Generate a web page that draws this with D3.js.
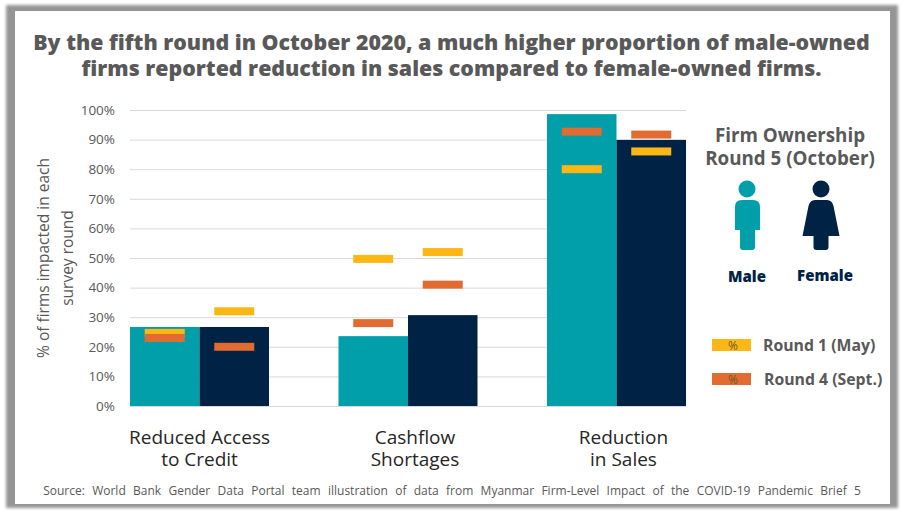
<!DOCTYPE html>
<html>
<head>
<meta charset="utf-8">
<script src="https://cdnjs.cloudflare.com/ajax/libs/d3/7.8.5/d3.min.js"></script>
<style>
  html, body { margin: 0; padding: 0; background: #fff; }
  svg { display: block; font-family: "Open Sans", sans-serif; }
</style>
</head>
<body>
<svg id="chart" width="906" height="515"></svg>
<script>
const categories = [['Reduced Access', 'to Credit'], ['Cashflow', 'Shortages'], ['Reduction', 'in Sales']];
const maleRound5 = [26.7, 23.6, 98.6];
const femaleRound5 = [26.7, 30.7, 89.9];
const maleRound1 = [24.7, 49.7, 80];
const femaleRound1 = [32, 52, 86];
const maleRound4 = [23, 28, 92.7];
const femaleRound4 = [20, 41, 91.7];
const yTicks = [0, 10, 20, 30, 40, 50, 60, 70, 80, 90, 100];

const TEAL = '#009fa9', NAVY = '#002244', YELLOW = '#fdb714', ORANGE = '#e26b32', GREY = '#595959';

const svg = d3.select('#chart');

// frame with soft shadow
const defs = svg.append('defs');
defs.append('filter').attr('id', 'soft').attr('x', '-5%').attr('y', '-5%').attr('width', '110%').attr('height', '110%')
  .append('feGaussianBlur').attr('stdDeviation', 1.5);
svg.append('rect').attr('x', 6).attr('y', 5).attr('width', 892).attr('height', 503)
  .attr('fill', '#959595').attr('filter', 'url(#soft)');
svg.append('rect').attr('x', 15).attr('y', 11).attr('width', 875).attr('height', 493).attr('fill', '#fff');

// title
svg.append('g').attr('fill', GREY).attr('font-size', 21.35).attr('font-weight', 800).attr('text-anchor', 'middle')
  .selectAll('text')
  .data(['By the fifth round in October 2020, a much higher proportion of male-owned',
         'firms reported reduction in sales compared to female-owned firms.'])
  .join('text')
  .attr('x', 451.5).attr('y', (d, i) => 50 + i * 26)
  .text(d => d);

// scales
const x = d3.scaleBand().domain(d3.range(categories.length)).range([130, 686]).paddingInner(1 / 3);
const y = d3.scaleLinear().domain([0, 100]).range([406, 110]);
const sub = d3.scaleBand().domain(['male', 'female']).range([0, x.bandwidth()]);

// gridlines + y axis
const yAxis = d3.axisLeft(y).tickValues(yTicks).tickFormat(d => d + '%').tickSize(0).tickPadding(15);
const axisG = svg.append('g').attr('transform', 'translate(130,0)').call(yAxis);
axisG.select('.domain').remove();
axisG.selectAll('text').attr('font-size', 13.5).attr('fill', GREY).attr('font-family', '"Open Sans", sans-serif');
axisG.selectAll('.tick').append('line').attr('x2', 556).attr('stroke', '#d9d9d9').attr('stroke-width', 1);

// y axis title
svg.append('g').attr('transform', 'translate(49,258) rotate(-90)')
  .attr('font-size', 15.5).attr('fill', GREY).attr('text-anchor', 'middle')
  .selectAll('text').data(['% of firms impacted in each', 'survey round']).join('text')
  .attr('y', (d, i) => i * 23.5).text(d => d);

// bars
const bars = [{ key: 'male', values: maleRound5, color: TEAL }, { key: 'female', values: femaleRound5, color: NAVY }];
bars.forEach(s => {
  svg.append('g').selectAll('rect').data(s.values).join('rect')
    .attr('x', (d, i) => x(i) + sub(s.key))
    .attr('y', d => y(d))
    .attr('width', sub.bandwidth())
    .attr('height', d => y(0) - y(d))
    .attr('fill', s.color);
});

// round markers
const markerW = 40, markerH = 8;
const markers = [
  { key: 'male', values: maleRound1, color: YELLOW },
  { key: 'female', values: femaleRound1, color: YELLOW },
  { key: 'male', values: maleRound4, color: ORANGE },
  { key: 'female', values: femaleRound4, color: ORANGE }
];
markers.forEach(s => {
  svg.append('g').selectAll('rect').data(s.values).join('rect')
    .attr('x', (d, i) => x(i) + sub(s.key) + sub.bandwidth() / 2 - markerW / 2)
    .attr('y', d => y(d) - markerH / 2)
    .attr('width', markerW)
    .attr('height', markerH)
    .attr('fill', s.color);
});

// category labels, the last two sit a bit right of their bars in the original
const catG = svg.append('g').attr('font-size', 19).attr('fill', '#262626').attr('text-anchor', 'middle');
categories.forEach((lines, i) => {
  catG.selectAll(null).data(lines).join('text')
    .attr('x', x(i) + x.bandwidth() / 2 + (i === 0 ? 0 : 7))
    .attr('y', (d, j) => 444 + j * 22)
    .text(d => d);
});

// source
svg.append('text').attr('x', 452).attr('y', 495).attr('text-anchor', 'middle')
  .attr('font-size', 12).attr('fill', GREY).attr('word-spacing', 4.2)
  .text('Source: World Bank Gender Data Portal team illustration of data from Myanmar Firm-Level Impact of the COVID-19 Pandemic Brief 5');

// legend heading
svg.append('g').attr('font-size', 18.8).attr('font-weight', 700).attr('fill', GREY).attr('text-anchor', 'middle')
  .selectAll('text').data(['Firm Ownership', 'Round 5 (October)']).join('text')
  .attr('x', 790).attr('y', (d, i) => 142 + i * 22.5).text(d => d);

// person icons
svg.append('circle').attr('cx', 747).attr('cy', 189).attr('r', 8.5).attr('fill', TEAL);
svg.append('path').attr('fill', TEAL)
  .attr('d', 'M742,200 h11 q7,0 7,7 v23 h-5 v17 q0,3 -3,3 h-9 q-3,0 -3,-3 v-17 h-5 v-23 q0,-7 7,-7 z');
svg.append('circle').attr('cx', 821).attr('cy', 189).attr('r', 8.5).attr('fill', NAVY);
svg.append('path').attr('fill', NAVY)
  .attr('d', 'M815,200 h12 q5,0 6.5,6 l6,30 h-11 v11 q0,3 -3,3 h-9 q-3,0 -3,-3 v-11 h-11 l6,-30 q1.5,-6 6.5,-6 z');
svg.append('g').attr('font-size', 15).attr('font-weight', 800).attr('fill', NAVY).attr('text-anchor', 'middle')
  .selectAll('text').data(['Male', 'Female']).join('text')
  .attr('x', (d, i) => i === 0 ? 747 : 825).attr('y', (d, i) => i === 0 ? 282 : 281).text(d => d);

// round legend
const legendRows = [
  { label: 'Round 1 (May)', color: YELLOW, top: 339, tx: 763 },
  { label: 'Round 4 (Sept.)', color: ORANGE, top: 373, tx: 764 }
];
const row = svg.append('g').selectAll('g').data(legendRows).join('g');
row.append('rect').attr('x', 712).attr('y', d => d.top).attr('width', 39).attr('height', 12).attr('fill', d => d.color);
row.append('text').attr('x', 733).attr('y', d => d.top + 10.5).attr('text-anchor', 'middle')
  .attr('font-size', 12).attr('fill', '#6b5a2a').text('%');
row.append('text').attr('x', d => d.tx).attr('y', d => d.top + 11.5).attr('font-size', 15.8)
  .attr('font-weight', 700).attr('fill', GREY).text(d => d.label);
</script>
</body>
</html>
